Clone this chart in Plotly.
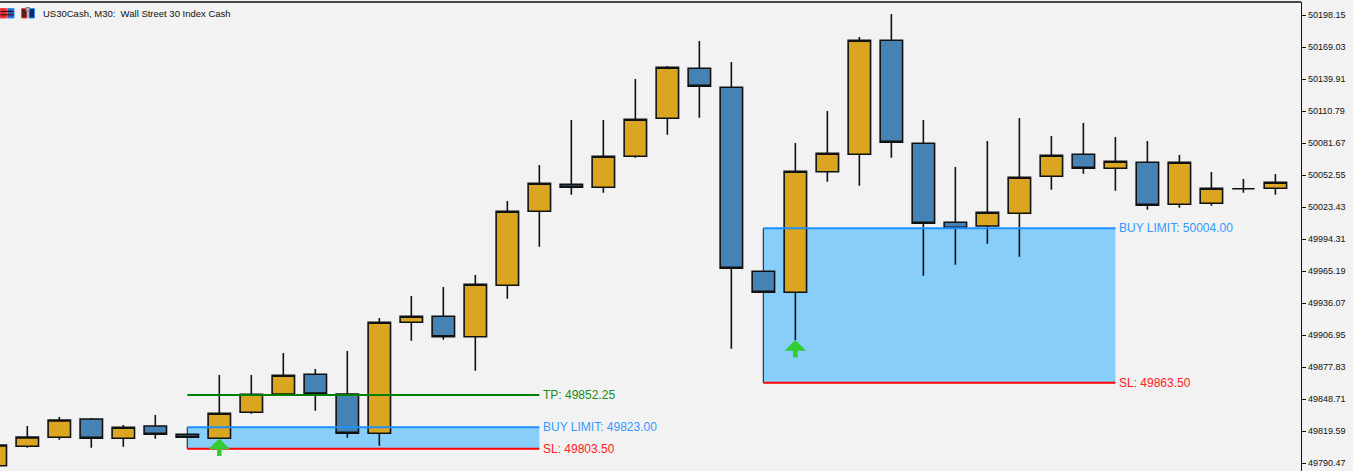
import plotly.graph_objects as go

# ===== CANDLES (US30Cash M30) =====
bars = list(range(41))
opens = [49788.00, 49805.67, 49813.86, 49830.51, 49812.95, 49824.14, 49816.59, 49812.95, 49836.61, 49853.26,
         49871.19, 49853.26, 49817.50, 49918.51, 49923.97, 49905.40, 49952.18, 50019.52, 50044.09, 50041.36,
         50069.57, 50104.15, 50149.65, 50132.36, 49964.92, 49945.81, 50055.55, 50071.39, 50175.13, 50081.40,
         50009.51, 50006.14, 50017.70, 50051.37, 50071.39, 50058.65, 50064.11, 50025.89, 50026.80, 50040.08,
         50040.45]
highs = [49808.70, 49824.14, 49832.33, 49831.42, 49825.05, 49834.15, 49817.31, 49870.55, 49870.55, 49890.57,
         49876.01, 49892.39, 49922.42, 49942.44, 49950.63, 49961.55, 50028.89, 50061.65, 50102.60, 50102.60,
         50139.91, 50151.74, 50174.49, 50155.38, 49965.65, 50081.67, 50110.79, 50178.13, 50199.06, 50102.60,
         50059.83, 50083.49, 50104.42, 50088.04, 50099.87, 50087.13, 50083.49, 50070.75, 50055.28, 50048.91,
         50053.46]
lows = [49786.80, 49804.39, 49811.67, 49804.39, 49805.30, 49812.58, 49813.22, 49812.31, 49835.33, 49851.71,
        49838.06, 49813.49, 49806.21, 49901.76, 49902.67, 49874.46, 49939.98, 49987.30, 50034.62, 50036.44,
        50068.29, 50089.22, 50104.69, 49894.48, 49945.17, 49902.40, 50046.45, 50042.81, 50068.29, 49960.91,
        49970.92, 49990.03, 49978.20, 50039.17, 50053.73, 50038.26, 50020.97, 50022.79, 50024.61, 50036.44,
        50034.62]
closes = [49806.85, 49814.13, 49829.60, 49812.95, 49822.96, 49816.59, 49813.86, 49835.70, 49852.99, 49870.28,
          49853.26, 49817.50, 49918.51, 49923.97, 49905.40, 49953.09, 50019.52, 50045.00, 50041.36, 50069.57,
          50103.24, 50150.56, 50133.27, 49967.65, 49945.81, 50055.92, 50072.30, 50175.13, 50082.31, 50008.60,
          50004.05, 50018.61, 50050.46, 50070.48, 50058.65, 50065.02, 50024.98, 50064.11, 50040.45, 50040.08,
          50045.91]

# ===== PENDING ORDERS =====
order_start = [6, 24]
order_end = [17, 35]
order_entry = [49823.00, 50004.00]
order_sl = [49803.50, 49863.50]
order_tp = [49852.25, None]

# buy signal arrows
arrow_bars = [7, 25]
arrow_prices = [49812.80, 49902.40]

# price scale
tick_vals = [50198.15, 50169.03, 50139.91, 50110.79, 50081.67, 50052.55, 50023.43, 49994.31,
             49965.19, 49936.07, 49906.95, 49877.83, 49848.71, 49819.59, 49790.47]

GOLD = "#DAA520"
STEEL = "#4682B4"
BG = "#f2f2f2"
FONT = "Liberation Sans"
PW, PH = 1301, 469  # plot area in px, used for the header icons


def px_rect(x0, x1, y0, y1, fill, edge):
    # small header glyph placed in pixels from the plot's top-left corner
    return dict(type="rect", xref="paper", yref="paper", x0=x0 / PW, x1=x1 / PW,
                y0=1 - y1 / PH, y1=1 - y0 / PH, fillcolor=fill, line=dict(color=edge, width=1))


fig = go.Figure()
fig.add_trace(go.Candlestick(
    x=bars, open=opens, high=highs, low=lows, close=closes,
    increasing=dict(fillcolor=GOLD, line=dict(color="#111111", width=1.6)),
    decreasing=dict(fillcolor=STEEL, line=dict(color="#111111", width=1.6)),
    whiskerwidth=0, hoverinfo="skip", showlegend=False,
))

shapes = []
annos = []
for i in range(len(order_entry)):
    x0, x1 = order_start[i], order_end[i]
    # filled zone entry -> sl
    shapes.append(dict(type="rect", xref="x", yref="y", x0=x0, x1=x1, y0=order_sl[i], y1=order_entry[i],
                       fillcolor="#87CEFA", line=dict(width=0), layer="below"))
    shapes.append(dict(type="line", xref="x", yref="y", x0=x0, x1=x0, y0=order_sl[i], y1=order_entry[i],
                       line=dict(color="#333333", width=1.2), layer="below"))
    shapes.append(dict(type="line", xref="x", yref="y", x0=x0, x1=x1, y0=order_entry[i], y1=order_entry[i],
                       line=dict(color="#1E90FF", width=2)))
    shapes.append(dict(type="line", xref="x", yref="y", x0=x0, x1=x1, y0=order_sl[i], y1=order_sl[i],
                       line=dict(color="#FF0000", width=2)))
    annos.append(dict(x=x1, y=order_entry[i], text="BUY LIMIT: %.2f" % order_entry[i], showarrow=False,
                      xanchor="left", yanchor="middle", xshift=2, font=dict(family=FONT, size=12, color="#3399FF")))
    annos.append(dict(x=x1, y=order_sl[i], text="SL: %.2f" % order_sl[i], showarrow=False,
                      xanchor="left", yanchor="middle", xshift=2, font=dict(family=FONT, size=12, color="#FF2020")))
    if order_tp[i] is not None:
        shapes.append(dict(type="line", xref="x", yref="y", x0=x0, x1=x1, y0=order_tp[i], y1=order_tp[i],
                           line=dict(color="#008000", width=2)))
        annos.append(dict(x=x1, y=order_tp[i], text="TP: %.2f" % order_tp[i], showarrow=False,
                          xanchor="left", yanchor="middle", xshift=2, font=dict(family=FONT, size=12, color="#1A8A1A")))

for b, p in zip(arrow_bars, arrow_prices):
    annos.append(dict(x=b, y=p, text="", showarrow=True, ax=0, ay=19, axref="pixel", ayref="pixel",
                      arrowhead=1, arrowsize=0.8, arrowwidth=4.5, arrowcolor="#32CD32", standoff=0))

# top frame line
shapes.append(dict(type="line", xref="paper", yref="paper", x0=0, x1=1, y0=1, y1=1,
                   line=dict(color="#111111", width=1.5)))

# header icons
shapes += [
    px_rect(0, 6.5, 6.5, 16, "#d83030", "#ff4040"),
    px_rect(7.5, 14, 6.5, 16, "#2a5fb8", "#3090ff"),
    px_rect(21.5, 27, 6.5, 16, "#5a1c1c", "#ff4040"),
    px_rect(29, 34.5, 6.5, 16, "#10285a", "#3090ff"),
    px_rect(26, 29.5, 5.5, 9, "#b0b0b0", "#808080"),
]
for yy in (9.5, 12.8):
    shapes.append(dict(type="line", xref="paper", yref="paper", x0=0.5 / PW, x1=14 / PW,
                       y0=1 - yy / PH, y1=1 - yy / PH, line=dict(color="#2a1010", width=1)))

annos.append(dict(xref="paper", yref="paper", x=41 / PW, y=1 - 12 / PH, text="US30Cash, M30:  Wall Street 30 Index Cash",
                  showarrow=False, xanchor="left", yanchor="middle",
                  font=dict(family=FONT, size=9.5, color="#111111")))

fig.update_layout(
    width=1353, height=471,
    margin=dict(l=0, r=52, t=2, b=0),
    paper_bgcolor=BG, plot_bgcolor=BG,
    shapes=shapes, annotations=annos,
    showlegend=False,
    boxgap=0.3, boxgroupgap=0,
    xaxis=dict(visible=False, range=[0.147, 40.8], rangeslider=dict(visible=False), fixedrange=True),
    yaxis=dict(side="right", range=[49783.19, 50209.98], tickvals=tick_vals,
               ticktext=["%.2f" % v for v in tick_vals], ticks="outside", ticklen=4, tickcolor="#111111",
               showline=True, linecolor="#111111", linewidth=1.2, showgrid=False, zeroline=False,
               tickfont=dict(family=FONT, size=9, color="#111111"), fixedrange=True),
)

# drop the browser's default page margin so the chart sits at the window corner
fig.write_html("out.html", config={"displayModeBar": False},
               post_script="document.body.style.margin='0';document.body.style.background='%s';" % BG)
